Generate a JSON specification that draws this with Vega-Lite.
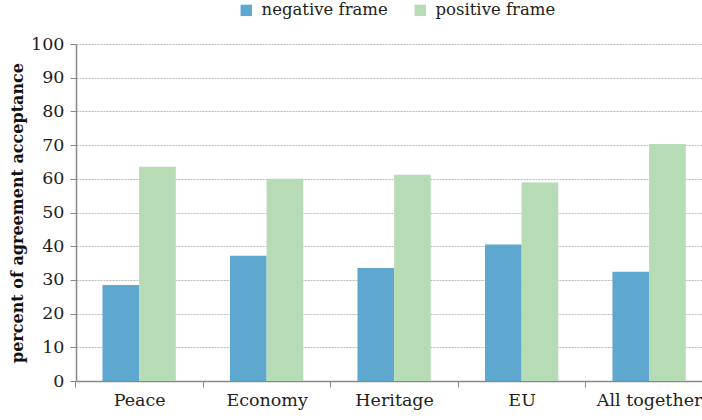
{
  "$schema": "https://vega.github.io/schema/vega-lite/v6.json",
  "autosize": "none",
  "width": 626,
  "height": 337,
  "padding": {"left": 76, "top": 44, "right": 0, "bottom": 39},
  "background": "white",
  "data": {
    "values": [
      {"topic": "Peace", "frame": "negative frame", "value": 28.5},
      {"topic": "Peace", "frame": "positive frame", "value": 63.6},
      {"topic": "Economy", "frame": "negative frame", "value": 37.2},
      {"topic": "Economy", "frame": "positive frame", "value": 60.0},
      {"topic": "Heritage", "frame": "negative frame", "value": 33.5},
      {"topic": "Heritage", "frame": "positive frame", "value": 61.2},
      {"topic": "EU", "frame": "negative frame", "value": 40.5},
      {"topic": "EU", "frame": "positive frame", "value": 58.9},
      {"topic": "All together", "frame": "negative frame", "value": 32.4},
      {"topic": "All together", "frame": "positive frame", "value": 70.3}
    ]
  },
  "mark": {"type": "bar"},
  "encoding": {
    "x": {
      "field": "topic",
      "type": "nominal",
      "sort": null,
      "scale": {"paddingInner": 0.425, "paddingOuter": 0.1675, "align": 0.62},
      "axis": {
        "title": null,
        "labelAngle": 0,
        "labelFont": "DejaVu Serif",
        "labelFontSize": 17.5,
        "labelColor": "#222222",
        "labelPadding": 4,
        "tickSize": 6,
        "tickColor": "#888888",
        "tickWidth": 1,
        "tickOffset": -63.75,
        "labelOffset": 63.75,
        "domainColor": "#888888",
        "domainWidth": 1.5,
        "grid": false
      }
    },
    "xOffset": {"field": "frame", "type": "nominal", "scale": {"paddingInner": 0, "paddingOuter": 0}},
    "y": {
      "field": "value",
      "type": "quantitative",
      "scale": {"domain": [0, 100], "nice": false},
      "axis": {
        "title": "percent of agreement acceptance",
        "titleFont": "DejaVu Serif",
        "titleFontSize": 16,
        "titleFontWeight": "bold",
        "titleColor": "#111111",
        "titlePadding": 5,
        "values": [0, 10, 20, 30, 40, 50, 60, 70, 80, 90, 100],
        "labelFont": "DejaVu Serif",
        "labelFontSize": 17.5,
        "labelColor": "#222222",
        "labelPadding": 6,
        "tickSize": 6,
        "tickColor": "#888888",
        "domainColor": "#888888",
        "domainWidth": 1.5,
        "grid": true,
        "gridColor": "#bbbbbb",
        "gridDash": [2, 1],
        "gridWidth": 1
      }
    },
    "color": {
      "field": "frame",
      "type": "nominal",
      "scale": {"domain": ["negative frame", "positive frame"], "range": ["#5ea8cf", "#b6dbb5"]},
      "legend": {
        "title": null,
        "orient": "none",
        "direction": "horizontal",
        "legendX": 162,
        "legendY": -42,
        "symbolType": "square",
        "symbolSize": 130,
        "symbolStrokeWidth": 0,
        "labelFont": "DejaVu Serif",
        "labelFontSize": 16.5,
        "labelColor": "#222222",
        "labelOffset": 7,
        "columnPadding": 24
      }
    }
  },
  "config": {"view": {"stroke": null}, "font": "DejaVu Serif"}
}
